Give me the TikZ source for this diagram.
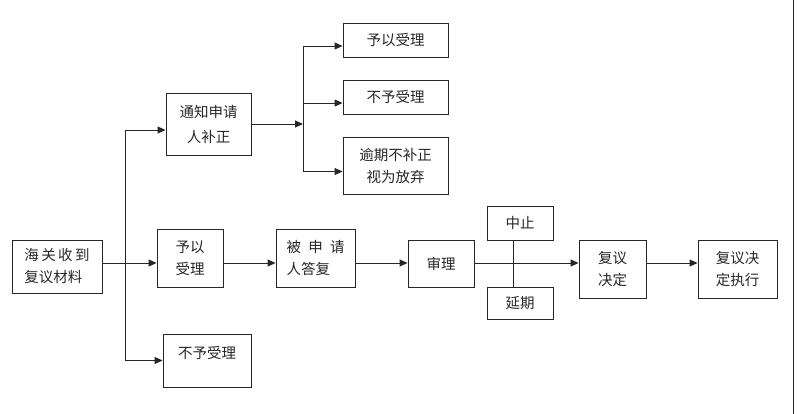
\documentclass[tikz,border=0pt]{standalone}
\usepackage{fontspec}
\setmainfont{Noto Sans CJK SC}
\usetikzlibrary{arrows.meta}
\begin{document}
\begin{tikzpicture}[x = 1pt, y = -1pt,
	box/.style = {draw = black!85, line width = 0.9pt, align = center, inner sep = 0pt, text = black!85, font = \fontsize{14.5}{22}\selectfont},
	arr/.style = {black!85, line width = 0.9pt, -{Triangle[length = 8pt, width = 7pt]}},
	ln/.style = {black!85, line width = 0.9pt}]
	\useasboundingbox (0,0) rectangle (798,414);
	% main row
	\node[box, align = left, minimum width = 90pt, minimum height = 53pt] (hgsd) at (57,266.5) {海\,关\,收\,到\\复议材料};
	\node[box, minimum width = 66pt, minimum height = 58pt] (yslz) at (190,258) {予以\\受理};
	\node[box, align = left, minimum width = 79pt, minimum height = 58pt] (bsq) at (315.5,258) {被\enspace 申\enspace 请\\人答复};
	\node[box, minimum width = 66pt, minimum height = 47pt] (sl) at (441,263.5) {审理};
	\node[box, minimum width = 66pt, minimum height = 34pt] (zz) at (520,223) {中止};
	\node[box, minimum width = 66pt, minimum height = 32pt] (yq) at (520,303) {延期};
	\node[box, minimum width = 67pt, minimum height = 58pt] (fyjd) at (612.5,269) {复议\\决定};
	\node[box, minimum width = 79pt, minimum height = 58pt] (jdzx) at (737.5,269) {复议决\\定执行};
	% upper and lower branch
	\node[box, minimum width = 85pt, minimum height = 62pt, font = \fontsize{14.5}{25}\selectfont] (tzbz) at (208.5,124) {通知申请\\人补正};
	\node[box, minimum width = 88pt, minimum height = 53pt, text height = 10pt, text depth = 15pt] (byslz) at (207,360.5) {不予受理};
	\node[box, minimum width = 105pt, minimum height = 34pt] (yslz2) at (395.5,40) {予以受理};
	\node[box, minimum width = 105pt, minimum height = 34pt] (byslz2) at (395.5,97) {不予受理};
	\node[box, minimum width = 105pt, minimum height = 57pt] (yqbz) at (395.5,165.5) {逾期不补正\\视为放弃};
	\coordinate (mainy) at (0,263);
	\coordinate (fork) at (125,263);
	\coordinate (fork2) at (303,124);
	\draw[arr] (hgsd.east |- mainy) -- (yslz.west |- mainy);
	\draw[arr] (fork) |- ([yshift = -6pt]tzbz.west);
	\draw[arr] (fork) |- (byslz.west);
	\draw[arr] (yslz.east |- mainy) -- (bsq.west |- mainy);
	\draw[arr] (bsq.east |- mainy) -- (sl.west |- mainy);
	\draw[arr] (sl.east |- mainy) -- (fyjd.west |- mainy);
	\draw[arr] (fyjd.east |- mainy) -- (jdzx.west |- mainy);
	\draw[ln] ([xshift = -7pt]zz.south) -- ([xshift = -7pt]yq.north);
	\draw[arr] (tzbz.east) -- (fork2);
	\draw[arr] (fork2) |- ([yshift = -6pt]yslz2.west);
	\draw[arr] (fork2) |- ([yshift = -6pt]byslz2.west);
	\draw[arr] (fork2) |- ([yshift = -6pt]yqbz.west);
	\draw[ln] (793,0) -- (793,414);
\end{tikzpicture}
\end{document}
